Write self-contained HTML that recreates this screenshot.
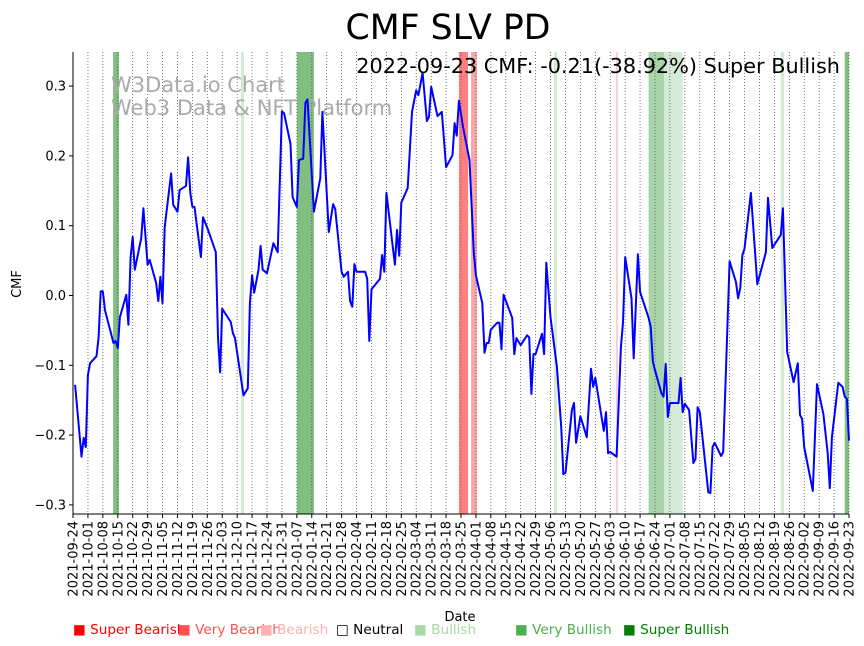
<!DOCTYPE html>
<html><head><meta charset="utf-8"><style>
html,body{margin:0;padding:0;background:#fff;}
svg{display:block;font-family:"DejaVu Sans","Liberation Sans",sans-serif;}
</style></head><body>
<svg id="chart" width="864" height="646" viewBox="0 0 864 646" xmlns="http://www.w3.org/2000/svg">
<text x="448" y="39" font-size="34.7" text-anchor="middle">CMF SLV PD</text>
<g id="bands"></g>
<g id="grid"></g>
<text x="111" y="92" font-size="21" fill="#aaa">W3Data.io Chart</text>
<text x="111" y="115" font-size="21" fill="#aaa">Web3 Data &amp; NFT Platform</text>
<g id="series"></g>
<g id="axes"></g>
<text x="840" y="73" font-size="20.8" text-anchor="end">2022-09-23 CMF: -0.21(-38.92%) Super Bullish</text>
<text transform="translate(21,284) rotate(-90)" font-size="13" text-anchor="middle">CMF</text>
<text x="460" y="621" font-size="13" text-anchor="middle">Date</text>
<g id="legend" font-size="13.6">
<text x="73" y="634" fill="#ff0000">■ Super Bearish</text>
<text x="178" y="634" fill="#ff5050">■ Very Bearish</text>
<text x="260" y="634" fill="#ffb0b0">■ Bearish</text>
<text x="336" y="634" fill="#000">□ Neutral</text>
<text x="414" y="634" fill="#a8d8a8">■ Bullish</text>
<text x="515" y="634" fill="#4caf50">■ Very Bullish</text>
<text x="623" y="634" fill="#008000">■ Super Bullish</text>
</g>
</svg>
<script>
const days=[1,4,5,6,7,8,11,12,13,14,15,19,20,21,22,25,26,27,28,29,32,33,35,36,39,40,41,42,43,46,47,49,50,53,54,55,56,57,60,61,63,67,68,69,70,74,75,76,80,82,83,84,85,87,88,89,91,94,96,98,99,102,103,105,106,108,109,110,113,116,117,120,122,123,126,127,129,130,131,132,133,137,138,139,140,144,145,146,147,151,152,153,154,157,159,161,162,164,166,167,168,171,173,175,178,179,180,181,183,186,188,189,192,193,194,195,196,199,200,201,202,206,207,208,210,213,214,215,216,217,220,221,222,224,227,229,230,231,234,235,236,238,241,243,244,245,249,250,251,252,255,257,258,259,262,263,265,266,270,271,272,273,276,277,278,279,280,284,285,286,287,289,291,292,293,294,298,299,300,301,304,305,308,311,312,313,314,315,318,321,325,326,328,332,333,335,338,340,341,342,343,347,349,352,354,355,356,359,361,362,363,364];
const cmf=[-0.128,-0.231,-0.204,-0.217,-0.114,-0.097,-0.087,-0.060,0.006,0.006,-0.021,-0.068,-0.065,-0.075,-0.031,0.001,-0.042,0.055,0.084,0.037,0.082,0.125,0.044,0.051,0.018,-0.008,0.027,-0.011,0.098,0.175,0.130,0.120,0.151,0.157,0.198,0.147,0.127,0.127,0.055,0.112,0.097,0.062,-0.060,-0.110,-0.019,-0.038,-0.054,-0.061,-0.143,-0.133,-0.011,0.029,0.004,0.037,0.071,0.037,0.032,0.075,0.062,0.264,0.261,0.217,0.141,0.127,0.194,0.196,0.276,0.281,0.120,0.168,0.263,0.091,0.131,0.124,0.034,0.027,0.034,-0.008,-0.016,0.045,0.034,0.034,0.024,-0.065,0.009,0.024,0.058,0.034,0.147,0.044,0.094,0.057,0.133,0.154,0.263,0.294,0.287,0.319,0.250,0.256,0.299,0.257,0.263,0.184,0.201,0.247,0.229,0.279,0.241,0.194,0.061,0.029,-0.011,-0.082,-0.068,-0.068,-0.049,-0.039,-0.039,-0.077,0.001,-0.032,-0.084,-0.061,-0.071,-0.057,-0.060,-0.141,-0.084,-0.084,-0.055,-0.084,0.047,-0.031,-0.102,-0.188,-0.256,-0.254,-0.164,-0.154,-0.211,-0.173,-0.203,-0.105,-0.131,-0.118,-0.194,-0.167,-0.226,-0.224,-0.231,-0.074,-0.039,0.055,-0.004,-0.090,0.059,0.005,-0.032,-0.045,-0.095,-0.107,-0.140,-0.145,-0.098,-0.174,-0.154,-0.154,-0.118,-0.167,-0.155,-0.164,-0.240,-0.234,-0.160,-0.167,-0.282,-0.283,-0.217,-0.211,-0.230,-0.224,0.049,0.019,-0.004,0.011,0.058,0.067,0.147,0.016,0.062,0.140,0.068,0.087,0.125,-0.081,-0.124,-0.097,-0.171,-0.177,-0.217,-0.280,-0.127,-0.170,-0.226,-0.276,-0.203,-0.125,-0.131,-0.145,-0.148,-0.208];
const bandStart=[18.8,78.8,105,181,186.7,225.6,254.7,270,277.2,332,362];
const bandEnd=[21.6,80.2,113,185.3,189.5,227,255.6,277.2,286,333.5,364];
const bandKind=["super-bullish","bullish","super-bullish","super-bearish","very-bearish","bullish","bearish","very-bullish","bullish","bullish","super-bullish"];
const yTicks=[0.3,0.2,0.1,0.0,-0.1,-0.2,-0.3];
const yTickLabels=["0.3","0.2","0.1","0.0","\u22120.1","\u22120.2","\u22120.3"];
const tickStart=new Date(Date.UTC(2021,8,24));
const nWeeks=52;

const X0=73,X1=849,PT=52,PB=514;
const xs=d=>X0+(d/364)*(X1-X0);
const ys=v=>295.5-v*698;
const NS="http://www.w3.org/2000/svg";
function mk(tag,attrs,parent){const e=document.createElementNS(NS,tag);for(const k in attrs)e.setAttribute(k,attrs[k]);parent.appendChild(e);return e;}
const colors={"super-bullish":"#80bf80","very-bullish":"#a8d4a8","bullish":"#d4ead4","super-bearish":"#ff8080","very-bearish":"#f8a8a8","bearish":"#fbd0d0"};

const bandsG=document.getElementById('bands');
bandStart.forEach((s,i)=>{
  const r=mk('rect',{x:xs(s),y:PT,width:xs(bandEnd[i])-xs(s),height:PB-PT,fill:colors[bandKind[i]]},bandsG);
  
  
});

const gridG=document.getElementById('grid');
const axesG=document.getElementById('axes');
for(let w=0;w<=nWeeks;w++){
  const x=xs(w*7);
  const gl=mk('line',{x1:x,x2:x,y1:PT,y2:PB,stroke:"#555","stroke-width":0.8,"stroke-dasharray":"1,2"},gridG);
  
  
  mk('line',{x1:x,x2:x,y1:PB,y2:PB+4,stroke:"#000","stroke-width":1},axesG);
  const dt=new Date(tickStart.getTime()+w*7*86400000);
  const lab=dt.toISOString().slice(0,10);
  const t=mk('text',{transform:`translate(${x+4.5},${PB+7}) rotate(-90)`,"font-size":13,"text-anchor":"end"},axesG);
  t.textContent=lab;
  
  
}
yTicks.forEach((v,i)=>{
  const y=ys(v);
  mk('line',{x1:X0-4,x2:X0,y1:y,y2:y,stroke:"#000","stroke-width":1},axesG);
  const t=mk('text',{x:X0-7,y:y+4.5,"font-size":13,"text-anchor":"end"},axesG);
  t.textContent=yTickLabels[i];
  
  
});
const ax=mk('line',{x1:X0,x2:X0,y1:PT,y2:PB,stroke:"#000","stroke-width":1},axesG);


const bx=mk('line',{x1:X0,x2:X1,y1:PB,y2:PB,stroke:"#000","stroke-width":1},axesG);



const pts=days.map((d,i)=>xs(d).toFixed(1)+','+ys(cmf[i]).toFixed(1)).join(' ');
const line=mk('polyline',{points:pts,fill:"none",stroke:"#0000ff","stroke-width":2,"stroke-linejoin":"round"},document.getElementById('series'));


</script>
</body></html>
